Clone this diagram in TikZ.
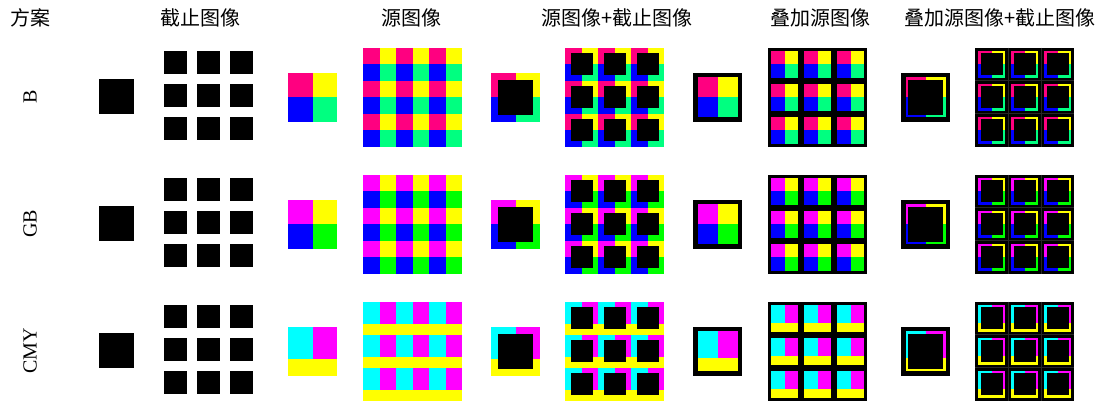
\documentclass[tikz,border=0pt]{standalone}
\usepackage{fontspec}
\setmainfont{Liberation Serif}
\newfontfamily\cjk{Noto Sans CJK SC}
\usetikzlibrary{positioning}

\definecolor{pinkB}{RGB}{255,0,128}
\definecolor{yelX}{RGB}{255,255,0}
\definecolor{bluX}{RGB}{0,0,255}
\definecolor{grnB}{RGB}{0,255,128}
\definecolor{magX}{RGB}{255,0,255}
\definecolor{grnG}{RGB}{0,255,0}
\definecolor{cynX}{RGB}{0,255,255}

% one source tile: x, y, size, four colours (TL,TR,BL,BR), split fraction
\newcommand{\srctile}[8]{%
  \fill[fill=#4] ({#1},{#2}) rectangle ({#1+#3/2},{#2+#3*#8});
  \fill[fill=#5] ({#1+#3/2},{#2}) rectangle ({#1+#3},{#2+#3*#8});
  \fill[fill=#6] ({#1},{#2+#3*#8}) rectangle ({#1+#3/2},{#2+#3});
  \fill[fill=#7] ({#1+#3/2},{#2+#3*#8}) rectangle ({#1+#3},{#2+#3});}
% black square of size #4 centred in a cell of size #3 at x, y
\newcommand{\blksq}[4]{%
  \fill[black] ({#1+(#3-#4)/2},{#2+(#3-#4)/2}) rectangle ++(#4,#4);}

\begin{document}
\begin{tikzpicture}[x=1pt, y=-1pt,
  hd/.style={font=\cjk\fontsize{20}{20}\selectfont, inner sep=0pt},
  lab/.style={font=\fontsize{20}{20}\selectfont, rotate=90, inner sep=0pt}]
  \useasboundingbox (0,0) rectangle (1113,402);
  % column headers
  \node[hd] (hscheme) at (30,18) {方案};
  \node[hd] (hcut)    at (200,18) {截止图像};
  \node[hd] (hsrc)    at (411,18) {源图像};
  \node[hd] (hsrccut) at (617,18) {源图像+截止图像};
  \node[hd] (hov)     at (820,18) {叠加源图像};
  \node[hd] (hovcut)  at (1000,18) {叠加源图像+截止图像};
  % one row per scheme
  \foreach \r/\lab/\ca/\cb/\cc/\cd/\fr in
    {97/B/pinkB/yelX/bluX/grnB/0.5, 224/GB/magX/yelX/bluX/grnG/0.5,
     351/CMY/cynX/magX/yelX/yelX/0.6667}{
    \node[lab] (row\lab) at (30,\r) {\lab};
    % cut-off image
    \blksq{92}{\r-25.5}{49}{35}
    \foreach \i in {0,1,2}{\foreach \j in {0,1,2}{
      \blksq{158.5+33*\i}{\r-51+33*\j}{33}{23}}}
    % source image
    \srctile{288}{\r-24.5}{49}{\ca}{\cb}{\cc}{\cd}{\fr}
    \foreach \i in {0,1,2}{\foreach \j in {0,1,2}{
      \srctile{363+33*\i}{\r-49.5+33*\j}{33}{\ca}{\cb}{\cc}{\cd}{\fr}}}
    % source + cut-off
    \srctile{491}{\r-24.5}{49}{\ca}{\cb}{\cc}{\cd}{\fr}
    \blksq{491}{\r-24.5}{49}{35}
    \foreach \i in {0,1,2}{\foreach \j in {0,1,2}{
      \srctile{565+33*\i}{\r-49.5+33*\j}{33}{\ca}{\cb}{\cc}{\cd}{\fr}
      \blksq{565+33*\i}{\r-49.5+33*\j}{33}{22}}}
    % overlaid source
    \fill[black] (693,{\r-24.5}) rectangle ++(49,49);
    \srctile{697.5}{\r-20}{40}{\ca}{\cb}{\cc}{\cd}{\fr}
    \fill[black] (768,{\r-49.5}) rectangle ++(99,99);
    \foreach \i in {0,1,2}{\foreach \j in {0,1,2}{
      \srctile{771+33*\i}{\r-46.5+33*\j}{27}{\ca}{\cb}{\cc}{\cd}{\fr}}}
    % overlaid source + cut-off
    \fill[black] (901,{\r-24.5}) rectangle ++(49,49);
    \srctile{905.5}{\r-20}{40}{\ca}{\cb}{\cc}{\cd}{\fr}
    \blksq{905.5}{\r-20}{40}{35}
    \fill[black] (975,{\r-49.5}) rectangle ++(99,99);
    \foreach \i in {0,1,2}{\foreach \j in {0,1,2}{
      \srctile{978+33*\i}{\r-46.5+33*\j}{27}{\ca}{\cb}{\cc}{\cd}{\fr}
      \blksq{978+33*\i}{\r-46.5+33*\j}{27}{22}}}
    \foreach \k in {1,2}{
      \draw[black!85, line width=0.4pt] ({975+33*\k},{\r-49.5}) -- ++(0,99);
      \draw[black!85, line width=0.4pt] (975,{\r-49.5+33*\k}) -- ++(99,0);}
  }
\end{tikzpicture}
\end{document}
